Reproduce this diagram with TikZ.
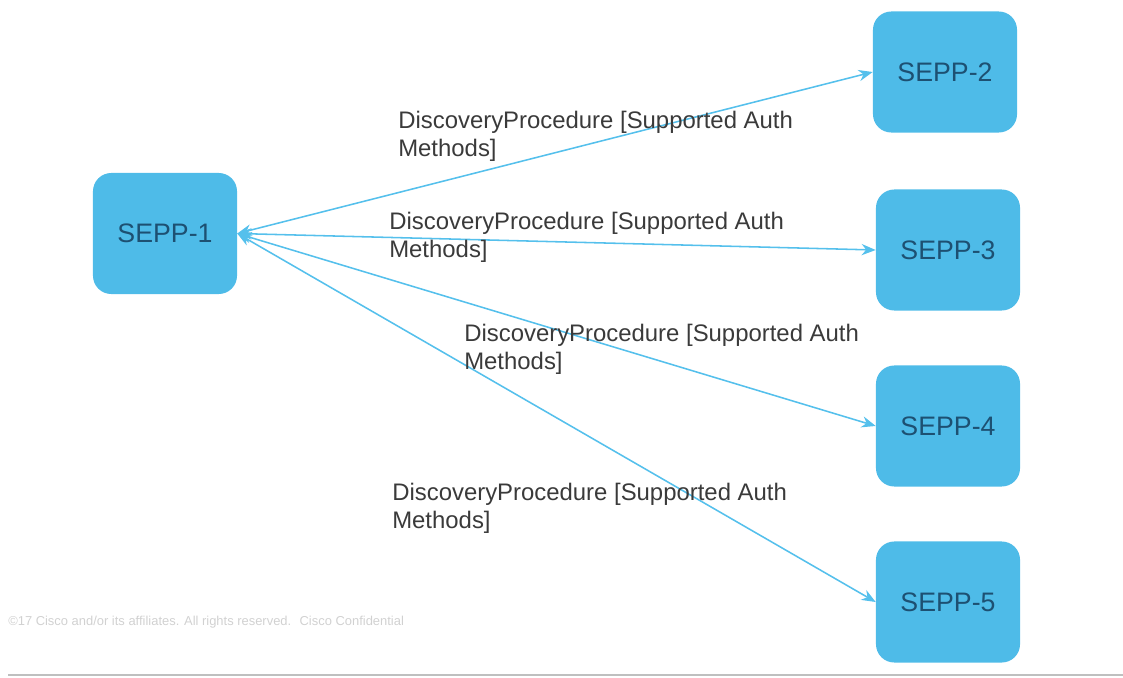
\documentclass[tikz,border=0pt]{standalone}
\usepackage{fontspec}
\setmainfont{Liberation Sans}
\usetikzlibrary{arrows.meta,positioning}
\definecolor{seppfill}{HTML}{4EBBE8}
\definecolor{seppline}{HTML}{55C0EC}
\definecolor{seppink}{HTML}{1D5072}
\definecolor{labink}{HTML}{3A3A3A}

\begin{document}
\begin{tikzpicture}[x=0.025cm,y=-0.025cm,
  >={Stealth[length=10pt,width=8pt]},
  sepp/.style={fill=seppfill,rounded corners=13pt,minimum width=3.6cm,
    minimum height=3.025cm,text=seppink,font=\fontsize{19}{23}\selectfont},
  msg/.style={draw=seppline,line width=1.1pt,<->},
  lab/.style={anchor=north west,inner sep=0pt,align=left,text=labink,
    font=\fontsize{17}{19.5}\selectfont}]
\useasboundingbox (0,0) rectangle (1123,677);
\node[sepp] (s1) at (165,233.5) {SEPP-1};
\node[sepp] (s2) at (945,72) {SEPP-2};
\node[sepp] (s3) at (948,250) {SEPP-3};
\node[sepp] (s4) at (948,426) {SEPP-4};
\node[sepp] (s5) at (948,602) {SEPP-5};
\draw[msg] (s1.east) -- (s2.west);
\draw[msg] (s1.east) -- (s3.west);
\draw[msg] (s1.east) -- (s4.west);
\draw[msg] (s1.east) -- (s5.west);
\node[lab] (l2) at (398,111) {DiscoveryProcedure [Supported Auth\\Methods]};
\node[lab] (l3) at (389,212) {DiscoveryProcedure [Supported Auth\\Methods]};
\node[lab] (l4) at (464,324) {DiscoveryProcedure [Supported Auth\\Methods]};
\node[lab] (l5) at (392,483) {DiscoveryProcedure [Supported Auth\\Methods]};
% footer
\node[anchor=west,inner sep=0pt,text=black!18,font=\fontsize{9.2}{11}\selectfont]
  (foot) at (8,622) {©17 Cisco and/or its affiliates. All rights reserved. \ Cisco Confidential};
\coordinate (rl) at (8,675);
\coordinate (rr) at (1123,675);
\draw[black!25,line width=1.2pt] (rl) -- (rr);
\end{tikzpicture}
\end{document}
